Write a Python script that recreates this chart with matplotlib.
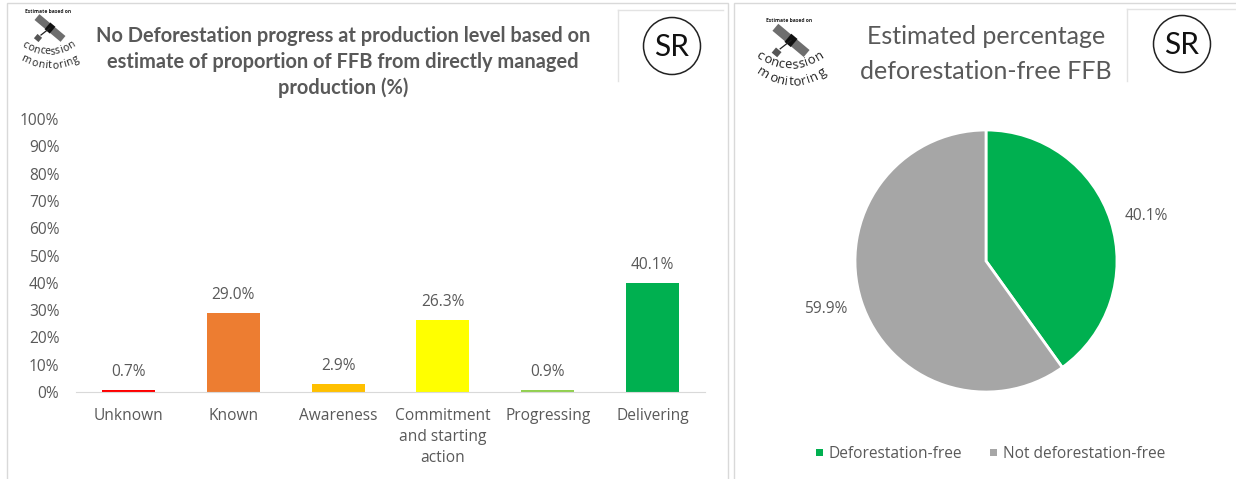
import numpy as np
import matplotlib
matplotlib.use("Agg")
import matplotlib.pyplot as plt
from matplotlib.patches import Rectangle, Circle, Polygon

categories = ["Unknown", "Known", "Awareness", "Commitment\nand starting\naction", "Progressing", "Delivering"]
values = [0.7, 29.0, 2.9, 26.3, 0.9, 40.1]
bar_colors = ["#FF0000", "#ED7D31", "#FFC000", "#FFFF00", "#92D050", "#00B050"]
pie_labels = ["Deforestation-free", "Not deforestation-free"]
pie_values = [40.1, 59.9]
pie_colors = ["#00B050", "#A6A6A6"]
left_title = "No Deforestation progress at production level based on\nestimate of proportion of FFB from directly managed\nproduction (%)"
right_title = "Estimated percentage\ndeforestation-free FFB"

W, H = 1236, 479
TXT = "#595959"
FS = 11.2
plt.rcParams["font.family"] = ["Open Sans", "DejaVu Sans"]
fig = plt.figure(figsize=(W / 100, H / 100), dpi=100)

ov = fig.add_axes([0, 0, 1, 1], zorder=0)
ov.set_xlim(0, W); ov.set_ylim(H, 0); ov.axis("off")

def frac(x0, y_top, x1, y_bot):
    return [x0 / W, 1 - y_bot / H, (x1 - x0) / W, (y_bot - y_top) / H]

# panel frames
for x0, x1 in [(7, 728), (734, 1240)]:
    ov.add_patch(Rectangle((x0, 3), x1 - x0, 490, fc="white", ec="#D9D9D9", lw=1.0))

# SR badges
for bx, top, right, cx, cy in [(618, 10, 723, 672, 46), (1127, 9, 1236, 1182, 44)]:
    ov.plot([bx, bx], [top, 81], color="#E3E3E3", lw=1)
    ov.plot([bx, right], [top, top], color="#E3E3E3", lw=1)
    ov.add_patch(Circle((cx, cy), 28.5, fc="white", ec="#222222", lw=1.1))
    ov.text(cx, cy + 1, "SR", ha="center", va="center", fontsize=21.5, color="#111111",
            family="Lato")

CHAR_W = {"i": 0.5, "t": 0.65, "r": 0.7, "m": 1.6, "s": 0.85, "c": 0.9}

def arc_text(s, x0, x1, y_end, y_mid, size):
    w = np.array([CHAR_W.get(ch, 1.0) for ch in s])
    edges = np.concatenate([[0], np.cumsum(w)])
    centers = (edges[:-1] + edges[1:]) / 2
    xs = x0 + (centers - centers[0]) / (centers[-1] - centers[0]) * (x1 - x0)
    cx = (x0 + x1) / 2
    half = (x1 - x0) / 2
    for ch, x in zip(s, xs):
        t = (x - cx) / half
        y = y_mid + (y_end - y_mid) * t * t
        slope = 2 * (y_end - y_mid) * t / half
        ov.text(x, y, ch, ha="center", va="center", fontsize=size, color="#222222",
                rotation=-np.degrees(np.arctan(slope)), rotation_mode="anchor")

def logo(cx, top, k, size, arcs):
    ov.text(cx, top, "Estimate based on", ha="center", va="center", fontsize=3.6,
            fontweight="bold", color="#222222")
    a = np.radians(40)
    u = np.array([np.cos(a), np.sin(a)]); v = np.array([-np.sin(a), np.cos(a)])
    c = np.array([cx + 2, top + 17.0 * k])
    def box(center, lu, lv, col):
        pts = [center + su * lu * u + sv * lv * v for su, sv in [(-1, -1), (1, -1), (1, 1), (-1, 1)]]
        ov.add_patch(Polygon(pts, closed=True, fc=col, ec="none"))
    box(c - 10 * k * u, 7 * k, 3.8 * k, "#6E6E6E")
    box(c + 10 * k * u, 7 * k, 3.8 * k, "#6E6E6E")
    box(c, 3.4 * k, 4.4 * k, "#111111")
    box(c + k * np.array([-12, 10]), 3 * k, 2.8 * k, "#555555")
    ov.plot([c[0], c[0] - 9 * k], [c[1], c[1] + 7 * k], color="#222222", lw=0.9)
    for word, (x0, x1, ye, ym) in zip(["concession", "monitoring"], arcs):
        arc_text(word, x0, x1, ye, ym, size)

logo(48, 11, 1.0, 7.6, [(25, 72, 45, 52), (26, 76, 60, 66)])
logo(789, 20, 1.2, 9.4, [(760, 819, 56, 65), (763, 822, 73, 82)])

# bar chart
ax = fig.add_axes(frac(76, 119, 705, 392), zorder=1)
ax.patch.set_alpha(0)
xpos = np.arange(len(categories))
ax.bar(xpos, values, width=0.505, color=bar_colors)
ax.set_xlim(-0.5, 5.5); ax.set_ylim(0, 100)
ax.set_yticks(np.arange(0, 101, 10))
ax.set_yticklabels([f"{v}%" for v in range(0, 101, 10)], color=TXT, fontsize=FS)
ax.set_xticks(xpos)
ax.set_xticklabels(categories, color=TXT, fontsize=FS, linespacing=1.42)
ax.tick_params(axis="x", length=0, pad=11.5)
ax.tick_params(axis="y", length=0, pad=12)
for s in ["top", "right", "left"]:
    ax.spines[s].set_visible(False)
ax.spines["bottom"].set_color("#D9D9D9")
for x, val in zip(xpos, values):
    ax.annotate(f"{val:.1f}%", (x, val), xytext=(0, 7), textcoords="offset points",
                ha="center", va="bottom", color=TXT, fontsize=FS)

ov.text(343, 62, left_title, ha="center", va="center", fontsize=14.4, fontweight="bold",
        color=TXT, family="Lato", linespacing=1.33)
ov.text(986, 54, right_title, ha="center", va="center", fontsize=18, color=TXT,
        family="Lato", linespacing=1.6)

# pie chart
r = 131
pa = fig.add_axes(frac(986 - r, 261 - r, 986 + r, 261 + r), zorder=1)
wedges, _ = pa.pie(pie_values, colors=pie_colors, startangle=90, counterclock=False, radius=1,
                   wedgeprops=dict(edgecolor="white", linewidth=2))
pa.set_xlim(-1, 1); pa.set_ylim(-1, 1)
ov.text(1146, 216, f"{pie_values[0]:.1f}%", ha="center", va="center", color=TXT, fontsize=FS)
ov.text(826, 309, f"{pie_values[1]:.1f}%", ha="center", va="center", color=TXT, fontsize=FS)

# legend
for lx, tx, lab, col in [(816, 828, pie_labels[0], pie_colors[0]), (990, 1003, pie_labels[1], pie_colors[1])]:
    ov.add_patch(Rectangle((lx, 449), 7, 7, fc=col, ec="none"))
    ov.text(tx, 454, lab, ha="left", va="center", color=TXT, fontsize=FS)

fig.savefig("out.png", dpi=100)
